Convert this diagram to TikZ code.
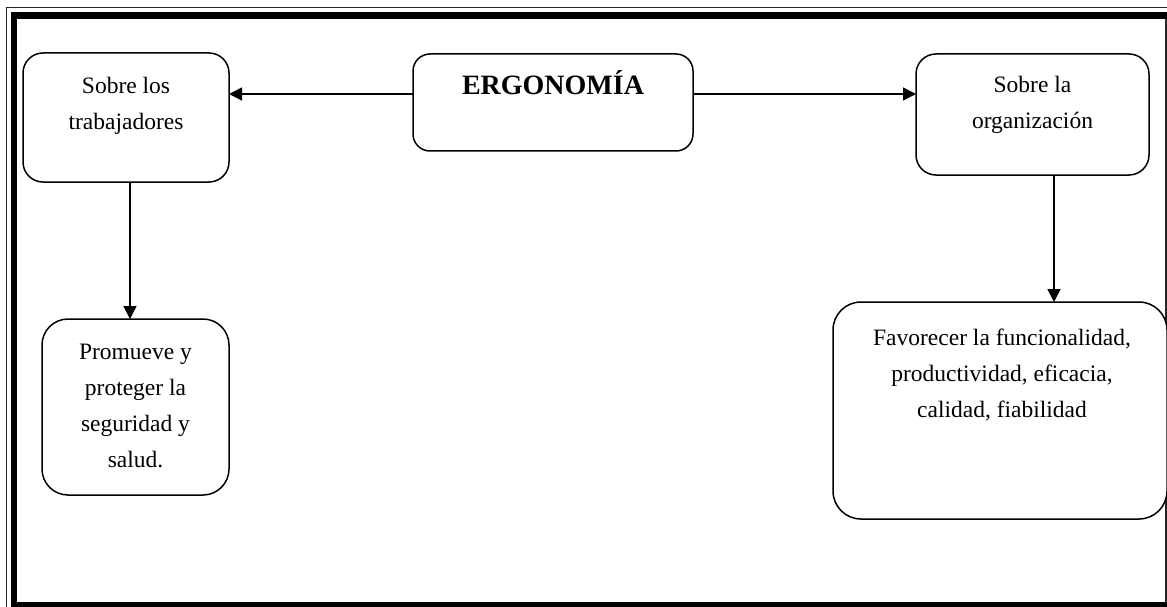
\documentclass[tikz,border=0pt]{standalone}
\usepackage{fontspec}
\setmainfont{Liberation Serif}
\usetikzlibrary{arrows.meta}
\begin{document}
\begin{tikzpicture}[x=1pt,y=-1pt,
  box/.style={draw=black, line width=1.5pt, inner sep=0pt, outer sep=0pt, fill=white},
  txt/.style={inner sep=0pt, outer sep=0pt, align=center, anchor=north, font=\fontsize{23.5}{36}\selectfont},
  arr/.style={line width=1.6pt, -{Triangle[length=13pt,width=13pt]}},
  framethin/.style={line width=1.2pt, draw=black!85}]
\useasboundingbox (0,0) rectangle (1167,607);
\fill[white] (0,0) rectangle (1167,607);
% page border
\draw[framethin] (6.8,607) -- (6.8,7.5) -- (1167,7.5);
\fill[black] (10.5,607) rectangle (17,12);
\fill[black] (10.5,12) rectangle (1167,19);
\fill[black] (10.5,602) rectangle (1167,607);
\draw[framethin] (1166,19) -- (1166,602);
% boxes
\node[box, minimum width=206pt, minimum height=129pt, rounded corners=20pt] (trab) at (126,117.5) {};
\node[box, minimum width=280pt, minimum height=97pt, rounded corners=17pt] (ergo) at (553,102.5) {};
\node[box, minimum width=233pt, minimum height=121pt, rounded corners=20pt] (org) at (1032.5,114.5) {};
\node[box, minimum width=187pt, minimum height=176pt, rounded corners=26pt] (prom) at (135.5,407) {};
\node[box, minimum width=334pt, minimum height=217pt, rounded corners=28pt] (fav) at (1000,410.5) {};
% texts
\node[txt] (trabt) at (126,77) {Sobre los\\trabajadores};
\node[inner sep=0pt, anchor=base, font=\fontsize{28}{32}\selectfont\bfseries] (ergot) at (553,95) {ERGONOMÍA};
\node[txt] (orgt) at (1032.5,76) {Sobre la\\organización};
\node[txt] (promt) at (135.5,344) {Promueve y\\proteger la\\seguridad y\\salud.};
\node[txt] (favt) at (1002,329) {Favorecer la funcionalidad,\\productividad, eficacia,\\calidad, fiabilidad};
% connectors
\draw[arr] ([yshift=8.5pt]ergo.west) -- ([yshift=8.5pt]ergo.west -| trab.east);
\draw[arr] ([yshift=8.5pt]ergo.east) -- ([yshift=8.5pt]ergo.east -| org.west);
\draw[arr] ([xshift=4pt]trab.south) -- ([xshift=4pt]trab.south |- prom.north);
\draw[arr] ([xshift=21.5pt]org.south) -- ([xshift=21.5pt]org.south |- fav.north);
\end{tikzpicture}
\end{document}
